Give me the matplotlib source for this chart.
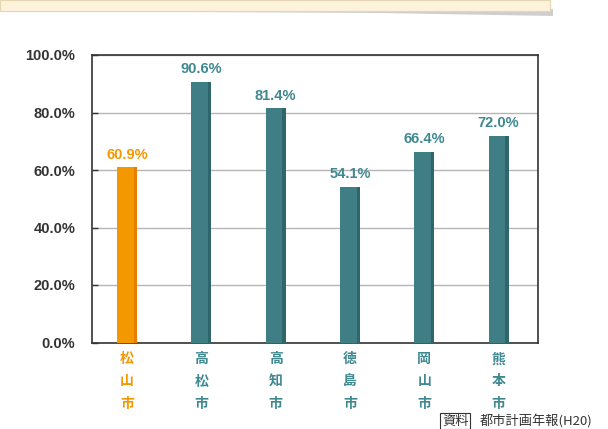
import matplotlib.pyplot as plt
from matplotlib.patches import Rectangle, Polygon
import numpy as np

plt.rcParams['font.family'] = ['Liberation Sans', 'Noto Sans CJK JP', 'DejaVu Sans']

cities = ["松\n山\n市", "高\n松\n市", "高\n知\n市", "徳\n島\n市", "岡\n山\n市", "熊\n本\n市"]
values = [60.9, 90.6, 81.4, 54.1, 66.4, 72.0]
yticks = [0, 20, 40, 60, 80, 100]

orange, orange_dark = "#F39800", "#E87E00"
teal, teal_dark = "#3E7E84", "#2E666B"
teal_text = "#3F8890"
colors = [orange] + [teal] * 5
shades = [orange_dark] + [teal_dark] * 5
text_colors = [orange] + [teal_text] * 5

fig = plt.figure(figsize=(6.08, 4.29), dpi=100)
ax = fig.add_axes([92 / 608, 1 - 342.5 / 429, 446 / 608, 287.5 / 429])

x = np.arange(len(values))
w = 0.27
edge = 0.045
ax.bar(x, values, width=w, color=colors, zorder=3)
ax.bar(x + w / 2 - edge, values, width=edge, align="edge", color=shades, zorder=4)

for xi, v, c in zip(x, values, text_colors):
    ax.text(xi, v + 2.0, f"{v:.1f}%", ha="center", va="bottom", color=c,
            fontsize=10.5, fontweight="bold")

ax.set_xlim(-0.47, 5.53)
ax.set_ylim(0, 100)
ax.set_yticks(yticks)
ax.set_yticklabels([f"{t:.1f}%" for t in yticks], fontsize=10.5, fontweight="bold", color="#333333")
ax.tick_params(axis="y", direction="in", length=4, width=1, color="#333333", pad=12)
ax.yaxis.grid(True, color="#B5B5B5", linewidth=1, zorder=0)

ax.set_xticks(x)
ax.set_xticklabels(cities, fontsize=10, fontweight="bold", linespacing=1.75,
                   family=['Noto Sans CJK JP', 'DejaVu Sans'])
for lbl, c in zip(ax.get_xticklabels(), text_colors):
    lbl.set_color(c)
ax.tick_params(axis="x", length=0, pad=7)

for s in ax.spines.values():
    s.set_color("#333333")
    s.set_linewidth(1.2)

# decorative box at top
fig.patches.append(Polygon([[0, 1 - 9 / 429], [553 / 608, 1 - 9 / 429], [553 / 608, 1 - 16 / 429],
                            [380 / 608, 1 - 13 / 429], [0, 1 - 11 / 429]],
                           closed=True, transform=fig.transFigure, facecolor="#B0B0B0",
                           edgecolor="none", alpha=0.6))
fig.patches.append(Rectangle((0, 1 - 11 / 429), 550 / 608, 11 / 429, transform=fig.transFigure,
                             facecolor="#FDF2DA", edgecolor="#E6D7B3", linewidth=0.8))

# source note
fig.text(442 / 608, 1 - 421 / 429, "資料", fontsize=9.5, color="#333333", va="center",
         family=['Noto Sans CJK JP', 'DejaVu Sans'],
         bbox=dict(boxstyle="square,pad=0.15", facecolor="white", edgecolor="#333333", linewidth=0.8))
fig.text(480 / 608, 1 - 421 / 429, "都市計画年報(H20)", fontsize=9.5, color="#333333", va="center",
         family=['Noto Sans CJK JP', 'DejaVu Sans'])

fig.savefig("out.png", dpi=100)
